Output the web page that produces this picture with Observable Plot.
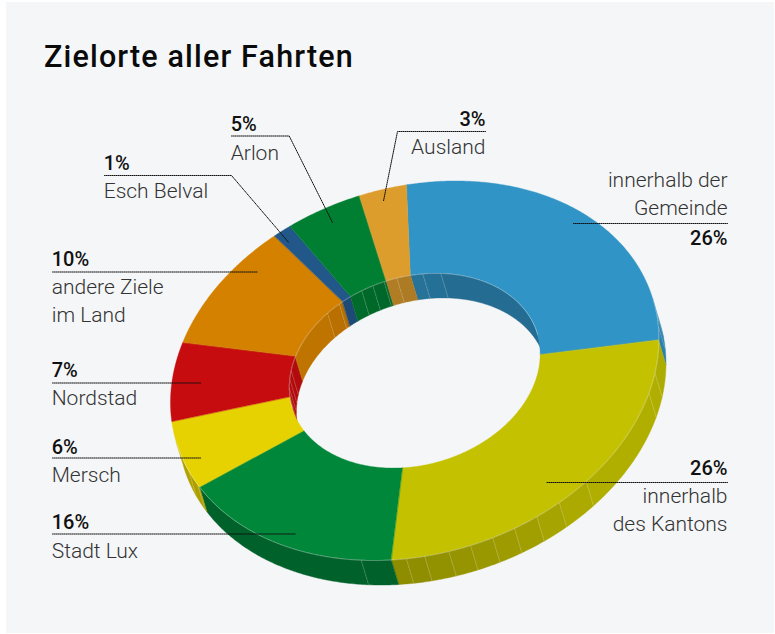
<!DOCTYPE html>
<html>
<head>
<meta charset="utf-8">
<script src="https://cdn.jsdelivr.net/npm/d3@7"></script>
<script src="https://cdn.jsdelivr.net/npm/@observablehq/plot@0.6"></script>
<style>
html,body{margin:0;padding:0;background:#fff;}
#panel{position:absolute;left:6px;top:2px;width:768px;height:631px;background:#F5F6F8;}
#title{position:absolute;left:44px;top:38px;margin:0;font:500 30.5px/38px Roboto,sans-serif;letter-spacing:1.15px;color:#0a0a0a;}
#chart{position:absolute;left:0;top:0;}
#chart svg{display:block;background:transparent;}
</style>
</head>
<body>
<div id="panel"></div>
<div id="chart"></div>
<h1 id="title">Zielorte aller Fahrten</h1>
<script>
// Data (clockwise from the far side of the ring)
const names  = ["Gemeinde","Kanton","Stadt Lux","Mersch","Nordstad","Land","Esch Belval","Arlon","Ausland"];
const shares = [25.66,26.4,15.64,6.2,6.7,10.2,1.2,4.9,3.1];
const colors = ["#3194C6","#C4C200","#00873A","#E5D200","#C60C0E","#D48100","#22578A","#007F33","#DD9D2D"];

// Labels
const labelPct   = ["26%","26%","16%","6%","7%","10%","1%","5%","3%"];
const labelLines = [["innerhalb der","Gemeinde"],["innerhalb","des Kantons"],["Stadt Lux"],["Mersch"],["Nordstad"],["andere Ziele","im Land"],["Esch Belval"],["Arlon"],["Ausland"]];

// Label layout: text anchor, x, pct baseline, first name baseline, leader polyline
const layout = [
  {a:"end",  x:727,p:245,n:187,l:[[727,223],[573,223]]},
  {a:"end",  x:727,p:475,n:503,l:[[727,482],[546,482]]},
  {a:"start",x:52, p:529,n:558,l:[[52,533.5],[295,533.5]]},
  {a:"start",x:52, p:454,n:482,l:[[52,457.5],[200,457.5]]},
  {a:"start",x:52, p:377,n:405,l:[[52,382.5],[200,382.5]]},
  {a:"start",x:52, p:266,n:294,l:[[52,271.5],[257,271.5]]},
  {a:"start",x:104,p:170,n:198,l:[[104,175],[231,175],[288,241.7]]},
  {a:"start",x:231,p:131,n:160,l:[[231,135.5],[288.7,135.5],[332,222]]},
  {a:"end",  x:485,p:126,n:154,l:[[485,131],[397,131],[383,200.5]]}
];

// Ring geometry (tilted ellipse as an affine image of a circle)
const cx=414.5, cy=370.5, rx=244, ryc=-32, rys=186.8, hole=0.515, dx=7.5, dy=25;
const rad=d=>d*Math.PI/180;
const P=(r,t)=>[cx+r*rx*Math.cos(rad(t)), cy+r*(ryc*Math.cos(rad(t))+rys*Math.sin(rad(t)))];
const range=(a,b,step=1)=>{const o=[];for(let t=a;t<b;t+=step)o.push(t);o.push(b);return o;};

const start=-91.9;
let acc=start;
const slices=names.map((n,i)=>{const a=acc;acc+=shares[i]*3.6;return {name:n,a,b:acc,color:colors[i]};});

// Facet seams on the walls, and wall shading by angle
const outerFacets=[-8,-4,10.3,16.4,45.4,53.7,60,65.9,71.4,76.8,82,87.7,92,102.7,153,158];
const innerFacets=[170,175,180,185,190,226,233,245,250.5,255.8,261.8,-86.4,-78.1];
const outerShade=d3.scaleLinear([-12,16,45,60,90,110,165],[.86,.9,.9,.83,.73,.70,.77]);
const innerShade=d3.scaleLinear([-192,-165,-145,-120,-98,-75,-12],[.88,.9,.9,.85,.79,.74,.72]);
const shade=(c,f)=>{const q=d3.rgb(c);return d3.rgb(q.r*f,q.g*f,q.b*f).formatHex();};

function wall(r,lo,hi,facets,shadeFn,key){
  const rows=[];
  slices.forEach(s=>{
    const a=Math.max(s.a,lo),b=Math.min(s.b,hi);
    if(a>=b) return;
    const cuts=[a,...facets.filter(f=>f>a&&f<b),b].sort((u,v)=>u-v);
    d3.pairs(cuts).forEach(([u,v],j)=>{
      const fill=shade(s.color,shadeFn((u+v)/2));
      range(u,v,.5).forEach(t=>{
        const [x,y]=P(r,t);
        rows.push({x1:x,y1:y,x2:x+dx,y2:y+dy,z:key+s.name+j,fill});
      });
    });
  });
  return rows;
}
const outerWall=wall(1,-12.4,167.6,outerFacets,outerShade,"o");
const innerWall=[
  ...wall(hole,-192.4,-12.4,innerFacets.filter(f=>f<0),innerShade,"i"),
  ...wall(hole,167.6,270,innerFacets.filter(f=>f>0),t=>innerShade(t-360),"j")
];

const faces=slices.flatMap(s=>range(s.a,s.b,.5).map(t=>{
  const [xi,yi]=P(hole,t),[xo,yo]=P(1,t);
  return {x1:xi,y1:yi,x2:xo,y2:yo,z:s.name,fill:s.color};
}));

// Faint light seams
const seamRows=[
  ...outerFacets.map(t=>{const [x,y]=P(1,t);return {x1:x,y1:y,x2:x+dx,y2:y+dy};}),
  ...innerFacets.map(t=>{const [x,y]=P(hole,t);return {x1:x,y1:y,x2:x+dx,y2:y+dy};})
];
const edgeRows=[
  ...range(-12.4,167.6,.5).map(t=>{const [x,y]=P(1,t);return {x,y,z:"o"};}),
  ...range(-192.4,-12.4,.5).map(t=>{const [x,y]=P(hole,t);return {x,y,z:"i"};})
];

// Text and leaders
const textRows=[], nameRows=[], leaderRows=[];
layout.forEach((L,i)=>{
  textRows.push({x:L.x,y:L.p,t:labelPct[i],a:L.a});
  labelLines[i].forEach((s,j)=>nameRows.push({x:L.x,y:L.n+j*28,t:s,a:L.a}));
  L.l.forEach(([x,y])=>leaderRows.push({x,y,z:i}));
});
const textMark=(rows,anchor,opts)=>Plot.text(rows.filter(d=>d.a===anchor),{x:"x",y:"y",text:"t",textAnchor:anchor,lineAnchor:"bottom",dy:-0.8,dx:anchor==="start"?-0.8:0,...opts});
const pctStyle={fontFamily:"Roboto, sans-serif",fontSize:20,fontWeight:500,fill:"#111"};
const nameStyle={fontFamily:"Roboto, sans-serif",fontSize:21,fontWeight:300,fill:"#333",letterSpacing:"0.75px"};
const area=(rows)=>Plot.area(rows,{x1:"x1",y1:"y1",x2:"x2",y2:"y2",z:"z",fill:"fill",stroke:"fill",strokeWidth:.4,curve:"linear"});

const chart=Plot.plot({
  width:775,height:634,margin:0,
  style:{background:"transparent"},
  x:{domain:[0,775],range:[0,775],axis:null},
  y:{domain:[0,634],range:[0,634],axis:null},
  color:{type:"identity"},
  marks:[
    area(outerWall),
    area(innerWall),
    Plot.link(seamRows,{x1:"x1",y1:"y1",x2:"x2",y2:"y2",stroke:"#fff",strokeOpacity:.2,strokeWidth:.8}),
    area(faces),
    Plot.line(edgeRows,{x:"x",y:"y",z:"z",stroke:"#fff",strokeOpacity:.45,strokeWidth:.7,curve:"linear"}),
    Plot.line(leaderRows,{x:"x",y:"y",z:"z",stroke:"#111",strokeWidth:1,strokeDasharray:"1 1",strokeDashoffset:0.5,curve:"linear"}),
    textMark(textRows,"start",pctStyle),
    textMark(textRows,"end",pctStyle),
    textMark(nameRows,"start",nameStyle),
    textMark(nameRows,"end",nameStyle)
  ]
});
document.getElementById("chart").appendChild(chart);
</script>
</body>
</html>
